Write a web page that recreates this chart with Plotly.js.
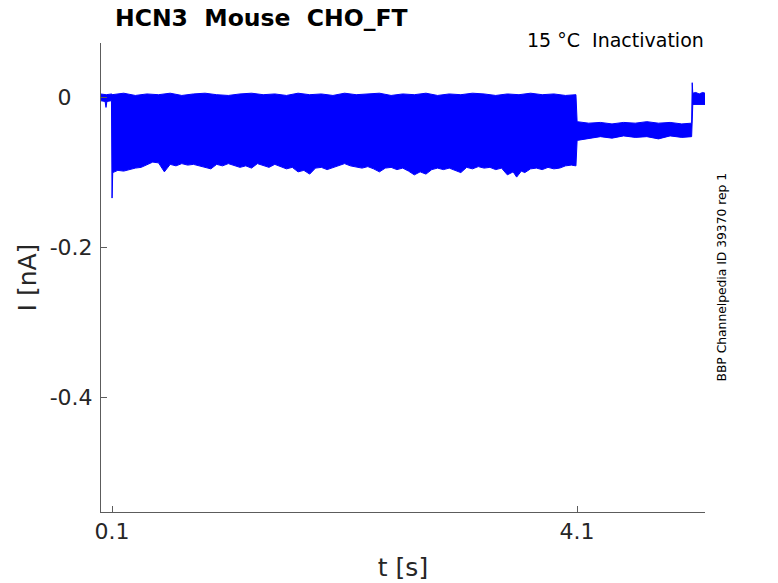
<!DOCTYPE html>
<html>
<head>
<meta charset="utf-8">
<script src="https://cdn.plot.ly/plotly-3.0.1.min.js"></script>
<style>
  html, body { margin: 0; padding: 0; background: #fff; }
  #chart { width: 778px; height: 583px; }
</style>
</head>
<body>
<div id="chart"></div>
<script>
// upper edge of the sweep bundle (t in s, I in nA)
const upperT = [0.0, 0.05, 0.098,
  0.1, 0.2, 0.3, 0.4, 0.5, 0.6, 0.7, 0.8, 0.9, 1.0,
  1.1, 1.2, 1.3, 1.4, 1.5, 1.6, 1.7, 1.8, 1.9, 2.0,
  2.1, 2.2, 2.3, 2.4, 2.5, 2.6, 2.7, 2.8, 2.9, 3.0,
  3.1, 3.2, 3.3, 3.4, 3.5, 3.6, 3.7, 3.8, 3.9, 4.0, 4.09,
  4.1, 4.2, 4.3, 4.4, 4.5, 4.6, 4.7, 4.8, 4.9, 5.0, 5.085,
  5.09, 5.095, 5.12, 5.15, 5.18, 5.2];
const upperI = [0.005, 0.004, 0.005,
  0.004, 0.006, 0.003, 0.005, 0.004, 0.006, 0.003, 0.005, 0.006, 0.004,
  0.003, 0.005, 0.006, 0.004, 0.005, 0.003, 0.006, 0.004, 0.005, 0.003,
  0.006, 0.004, 0.005, 0.006, 0.003, 0.005, 0.004, 0.006, 0.003, 0.005,
  0.004, 0.006, 0.005, 0.003, 0.005, 0.004, 0.006, 0.004, 0.005, 0.003, 0.004,
  -0.032, -0.034, -0.033, -0.035, -0.033, -0.034, -0.032, -0.034, -0.033, -0.035, -0.034,
  0.02, 0.006, 0.007, 0.005, 0.007, 0.006];

// lower edge of the sweep bundle
const lowerT = [0.0, 0.04, 0.048, 0.056, 0.095, 0.1, 0.106,
  0.15, 0.2, 0.25, 0.3, 0.35, 0.4, 0.45, 0.5, 0.55, 0.6,
  0.65, 0.7, 0.75, 0.8, 0.85, 0.9, 0.95, 1.0, 1.05, 1.1,
  1.15, 1.2, 1.25, 1.3, 1.35, 1.4, 1.45, 1.5, 1.55, 1.6,
  1.65, 1.7, 1.75, 1.8, 1.85, 1.9, 1.95, 2.0, 2.05, 2.1,
  2.15, 2.2, 2.25, 2.3, 2.35, 2.4, 2.45, 2.5, 2.55, 2.6,
  2.65, 2.7, 2.75, 2.8, 2.85, 2.9, 2.95, 3.0, 3.05, 3.1,
  3.15, 3.2, 3.25, 3.3, 3.35, 3.4, 3.45, 3.5, 3.55, 3.58,
  3.62, 3.65, 3.7, 3.75, 3.8, 3.85, 3.9, 3.95, 4.0, 4.05, 4.09,
  4.1, 4.15, 4.2, 4.3, 4.4, 4.5, 4.6, 4.7, 4.8, 4.9, 5.0, 5.085,
  5.095, 5.2];
const lowerI = [-0.004, -0.005, -0.013, -0.005, -0.004, -0.134, -0.1,
  -0.097, -0.098, -0.096, -0.094, -0.093, -0.089, -0.086, -0.087, -0.099, -0.089,
  -0.091, -0.088, -0.090, -0.089, -0.092, -0.093, -0.095, -0.089, -0.091, -0.088,
  -0.090, -0.093, -0.091, -0.094, -0.088, -0.091, -0.093, -0.089, -0.092, -0.095,
  -0.093, -0.099, -0.097, -0.102, -0.094, -0.093, -0.096, -0.094, -0.091, -0.088,
  -0.091, -0.093, -0.094, -0.092, -0.095, -0.099, -0.094, -0.093, -0.096, -0.094,
  -0.098, -0.103, -0.099, -0.102, -0.096, -0.094, -0.096, -0.094, -0.097, -0.100,
  -0.093, -0.095, -0.092, -0.094, -0.093, -0.096, -0.094, -0.103, -0.099, -0.106,
  -0.098, -0.100, -0.095, -0.094, -0.096, -0.093, -0.095, -0.094, -0.091, -0.090, -0.091,
  -0.057, -0.056, -0.054, -0.052, -0.054, -0.051, -0.053, -0.052, -0.055, -0.051, -0.053, -0.052,
  -0.009, -0.009];

const xTicks = [0.1, 4.1];
const xTickText = ['0.1', '4.1'];
const yTicks = [0, -0.2, -0.4];
const yTickText = ['0\u00a0\u00a0\u00a0', '-0.2', '-0.4'];

const blue = '#0000ff';
const axisColor = '#5c5c5c';
const font = 'DejaVu Sans, Liberation Sans, sans-serif';

// closed outline: upper edge forward, lower edge back
const bundle = {
  x: upperT.concat(lowerT.slice().reverse()),
  y: upperI.concat(lowerI.slice().reverse()),
  mode: 'lines',
  fill: 'toself',
  fillcolor: blue,
  line: { color: blue, width: 1 },
  hoverinfo: 'skip',
  showlegend: false,
};

const axisCommon = {
  showline: true,
  linecolor: axisColor,
  linewidth: 1,
  mirror: false,
  showgrid: false,
  zeroline: false,
  ticks: 'inside',
  ticklen: 6,
  tickcolor: axisColor,
  tickfont: { family: font, size: 22, color: '#262626' },
  tickmode: 'array',
};

const layout = {
  width: 778,
  height: 583,
  margin: { l: 101, r: 73, t: 43, b: 71 },
  paper_bgcolor: '#fff',
  plot_bgcolor: '#fff',
  showlegend: false,
  title: {
    text: '<b>HCN3 \u00a0Mouse \u00a0CHO_FT</b>',
    font: { family: font, size: 23.5, color: '#000' },
    xref: 'container', x: 115 / 778, xanchor: 'left',
    yref: 'container', y: 1 - 18 / 583, yanchor: 'middle',
  },
  xaxis: Object.assign({}, axisCommon, {
    range: [0.005, 5.2],
    tickvals: xTicks,
    ticktext: xTickText,
    title: { text: 't [s]', font: { family: font, size: 25, color: '#262626' }, standoff: 15 },
  }),
  yaxis: Object.assign({}, axisCommon, {
    range: [-0.553, 0.073],
    tickvals: yTicks,
    ticktext: yTickText,
    ticklabelstandoff: 3,
    title: { text: 'I [nA]', font: { family: font, size: 25, color: '#262626' }, standoff: 5 },
  }),
  annotations: [
    {
      text: '15 °C \u00a0Inactivation',
      xref: 'paper', yref: 'paper', x: 1, y: 1, xanchor: 'right', yanchor: 'middle',
      yshift: 3, xshift: 1,
      showarrow: false,
      font: { family: font, size: 19, color: '#000' },
    },
    {
      text: 'BBP Channelpedia ID 39370 rep 1',
      xref: 'paper', yref: 'paper', x: 1, y: 0.5, xanchor: 'center', yanchor: 'middle',
      xshift: 16, yshift: 0,
      textangle: -90,
      showarrow: false,
      font: { family: font, size: 12.3, color: '#000' },
    },
  ],
};

Plotly.newPlot('chart', [bundle], layout, { displayModeBar: false, staticPlot: true });
</script>
</body>
</html>
